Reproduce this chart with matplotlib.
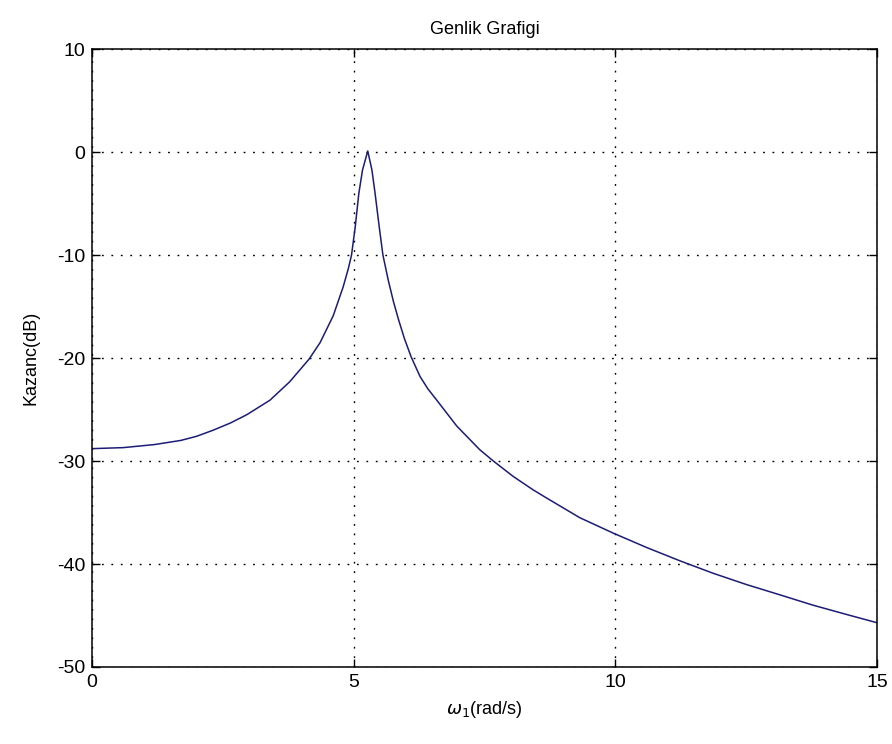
import numpy as np
import matplotlib.pyplot as plt

# frequency (rad/s) and gain (dB)
freq = [0.0, 0.6, 1.2, 1.7, 2.0, 2.32, 2.65, 2.96, 3.4, 3.78, 4.15, 4.36, 4.61,
        4.80, 4.90, 4.96, 5.03, 5.10, 5.17, 5.27, 5.35, 5.41, 5.49, 5.56, 5.66,
        5.76, 5.86, 5.97, 6.1, 6.27, 6.42, 6.59, 6.97, 7.41, 7.67, 8.05, 8.43,
        8.69, 9.32, 9.96, 10.6, 11.24, 11.87, 12.51, 13.15, 13.78, 14.42, 15.0]
gain = [-28.8, -28.7, -28.4, -28.0, -27.6, -27.0, -26.3, -25.5, -24.1, -22.3,
        -20.1, -18.5, -15.9, -13.1, -11.3, -10.0, -7.3, -4.0, -1.75, 0.1,
        -1.75, -4.0, -7.3, -10.0, -12.4, -14.5, -16.3, -18.1, -19.9, -21.8,
        -23.0, -24.1, -26.6, -28.9, -30.0, -31.5, -32.8, -33.6, -35.5, -37.0,
        -38.4, -39.7, -40.9, -42.0, -43.0, -44.0, -44.9, -45.7]

xticks = [0, 5, 10, 15]
yticks = [-50, -40, -30, -20, -10, 0, 10]

plt.rcParams['font.family'] = ['Liberation Sans', 'DejaVu Sans']
plt.rcParams['axes.unicode_minus'] = False

fig = plt.figure(figsize=(8.92, 7.44), dpi=100)
ax = fig.add_axes([0.1031, 0.1035, 0.880, 0.8306])

ax.plot(freq, gain, color='#1c1c78', linewidth=1.1)

ax.set_xlim(0, 15)
ax.set_ylim(-50, 10)
ax.set_xticks(xticks)
ax.set_yticks(yticks)
ax.tick_params(direction='in', length=6, width=1, top=True, right=True,
               labelsize=14, pad=5)
ax.grid(True, color='black', linestyle=(0, (1.3, 5.5)), linewidth=1.0)
for s in ax.spines.values():
    s.set_linewidth(1.1)

ax.set_title('Genlik Grafigi', fontsize=13, pad=11)
ax.set_xlabel(r'$\omega_1$(rad/s)', fontsize=13, labelpad=6)
ax.set_ylabel('Kazanc(dB)', fontsize=13, labelpad=12)

fig.savefig('out.png', dpi=100)
